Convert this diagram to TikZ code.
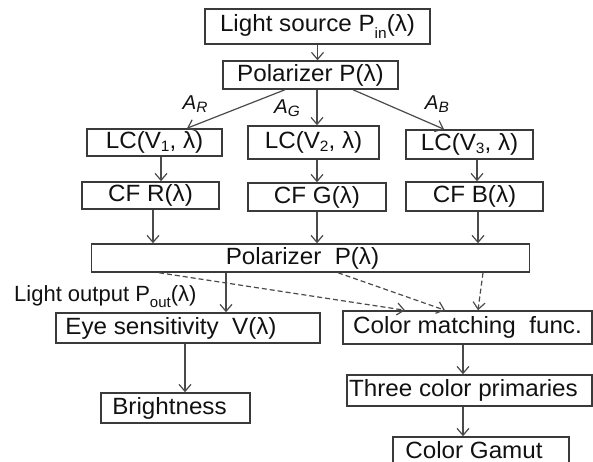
\documentclass[tikz,border=0pt]{standalone}
\usepackage{fontspec}
\setmainfont{Liberation Sans}[FakeStretch=1.03]
\newfontfamily\lblfont{Liberation Sans}
\usetikzlibrary{arrows.meta}
\definecolor{boxc}{HTML}{3A3A3A}
\definecolor{arrc}{HTML}{4A4A4A}
\definecolor{txtc}{HTML}{111111}
\newcommand\lsub[1]{\raisebox{-0.12em}{\fontsize{15}{15}\selectfont #1}}
\newcommand\dsub[1]{\raisebox{-0.28em}{\fontsize{15}{15}\selectfont #1}}
\begin{document}
\begin{tikzpicture}[x=1pt,y=-1pt,
  box/.style={draw=boxc, line width=1.5pt, inner sep=0pt, text=txtc,
    font=\fontsize{23.5}{26}\selectfont},
  arr/.style={draw=arrc, line width=1.2pt, -{Straight Barb[length=7pt,width=12pt]}},
  darr/.style={arr, dashed, dash pattern=on 5pt off 3pt},
  lbl/.style={text=txtc, inner sep=0pt},
]
\useasboundingbox (0,0) rectangle (593,462);

% boxes
\node[box, minimum width=225pt, minimum height=35pt] (src) at (317.5,26.5) {Light source P\dsub{in}(λ)};
\node[box, minimum width=175pt, minimum height=28pt] (pol1) at (310.5,75) {Polarizer P(λ)};
\node[box, minimum width=135pt, minimum height=27pt] (lc1) at (154.5,142.5) {LC(V\lsub{1}, λ)};
\node[box, minimum width=131pt, minimum height=33pt] (lc2) at (313.5,142.5) {LC(V\lsub{2}, λ)};
\node[box, minimum width=127pt, minimum height=29pt] (lc3) at (469.5,144.5) {LC(V\lsub{3}, λ)};
\node[box, minimum width=137pt, minimum height=27pt] (cfr) at (150.5,195.5) {CF R(λ)};
\node[box, minimum width=138pt, minimum height=28pt] (cfg) at (317,197) {CF G(λ)};
\node[box, minimum width=137pt, minimum height=29pt] (cfb) at (474.5,196.5) {CF B(λ)};
\node[box, minimum width=438pt, minimum height=28pt] (pol2) at (310.5,258) {\hspace*{-16pt}Polarizer\ \ P(λ)};
\node[box, minimum width=264pt, minimum height=30pt] (eye) at (188,328) {\hspace*{-34pt}Eye sensitivity\ \ V(λ)};
\node[box, minimum width=249pt, minimum height=33pt] (cmf) at (467.5,327.5) {Color matching\ \ func.};
\node[box, minimum width=149pt, minimum height=30pt] (bright) at (175.5,408) {\hspace*{-12pt}Brightness};
\node[box, minimum width=245pt, minimum height=31pt] (three) at (469.5,390.5) {\hspace*{-12pt}Three\ color\ primaries};
\node[box, minimum width=176pt, minimum height=33pt] (gamut) at (481,453.5) {\raisebox{7pt}{\hspace*{-14pt}Color Gamut}};

% labels
\node[lbl, font=\fontsize{20}{22}\selectfont\itshape] (ar) at (195,104) {A\lsub{R}};
\node[lbl, font=\fontsize{20}{22}\selectfont\itshape] (ag) at (287,108) {A\lsub{G}};
\node[lbl, font=\fontsize{20}{22}\selectfont\itshape] (ab) at (437,104) {A\lsub{B}};
\node[lbl, font=\lblfont\fontsize{22}{24}\selectfont, anchor=west] (lout) at (14,297) {Light output P\dsub{out}(λ)};

% arrows
\draw[arr] (src.south) -- (src.south |- pol1.north);
\draw[arr] ([xshift=-25.5pt]pol1.south) -- ([xshift=32.5pt]lc1.north);
\draw[arr] ([xshift=6.5pt]pol1.south) -- ([xshift=3.5pt]lc2.north);
\draw[arr] ([xshift=42.5pt]pol1.south) -- ([xshift=-25.5pt]lc3.north);
\draw[arr] ([xshift=6.5pt]lc1.south) -- ([xshift=6.5pt]lc1.south |- cfr.north);
\draw[arr] ([xshift=3.5pt]lc2.south) -- ([xshift=3.5pt]lc2.south |- cfg.north);
\draw[arr] ([xshift=7.5pt]lc3.south) -- ([xshift=7.5pt]lc3.south |- cfb.north);
\draw[arr] ([xshift=2.5pt]cfr.south) -- ([xshift=2.5pt]cfr.south |- pol2.north);
\draw[arr] (cfg.south) -- (cfg.south |- pol2.north);
\draw[arr] ([xshift=3.5pt]cfb.south) -- ([xshift=3.5pt]cfb.south |- pol2.north);
\draw[arr] ([xshift=-84.5pt]pol2.south) -- ([xshift=-84.5pt]pol2.south |- eye.north);
\draw[darr] ([xshift=-151.5pt]pol2.south) -- ([xshift=-62.5pt]cmf.north);
\draw[darr] ([xshift=27.5pt]pol2.south) -- ([xshift=-22.5pt]cmf.north);
\draw[darr] ([xshift=172.5pt]pol2.south) -- ([xshift=10.5pt]cmf.north);
\draw[arr] ([xshift=-3pt]eye.south) -- ([xshift=-3pt]eye.south |- bright.north);
\draw[arr] ([xshift=-4.5pt]cmf.south) -- ([xshift=-4.5pt]cmf.south |- three.north);
\draw[arr] ([xshift=-6.5pt]three.south) -- ([xshift=-6.5pt]three.south |- gamut.north);
\end{tikzpicture}
\end{document}
